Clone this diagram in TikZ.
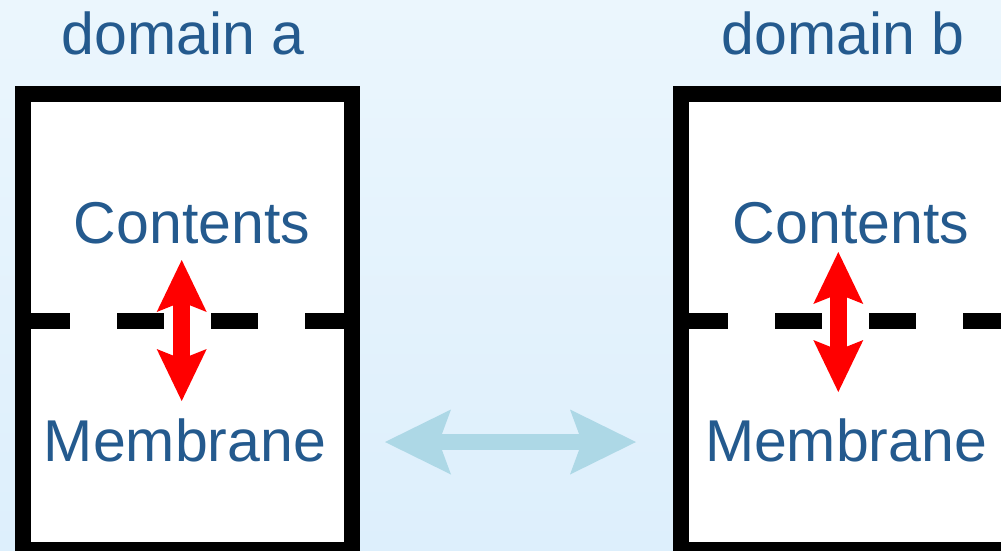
\documentclass[tikz,border=0pt]{standalone}
\usepackage{fontspec}
\setmainfont{Liberation Sans}
\usetikzlibrary{arrows.meta}
\definecolor{txtblue}{RGB}{36,90,142}
\definecolor{bgtop}{RGB}{235,246,253}
\definecolor{bgbot}{RGB}{221,239,252}
\definecolor{arrblue}{RGB}{173,216,230}
\tikzset{
  label/.style={anchor=base, inner sep=0pt, text=txtblue, font=\fontsize{59}{70}\selectfont},
  domainbox/.style={draw=black, fill=white, line width=16pt},
  membraneline/.style={line width=16pt, dash pattern=on 47pt off 47pt},
  redarrow/.style={draw=red, line width=17pt,
    {Stealth[length=52pt, width=50pt, inset=10pt, line width=0pt]}-{Stealth[length=52pt, width=50pt, inset=10pt, line width=0pt]}},
  bluearrow/.style={draw=arrblue, line width=16pt,
    {Stealth[length=66pt, width=65pt, inset=12pt, line width=0pt]}-{Stealth[length=66pt, width=65pt, inset=12pt, line width=0pt]}}
}
\begin{document}
\begin{tikzpicture}[x=1pt, y=-1pt]
\useasboundingbox (0,0) rectangle (1001,550);
\clip (0,0) rectangle (1001,550);
\shade[top color=bgtop, bottom color=bgbot] (0,0) rectangle (1001,550);
% boxes
\draw[domainbox] (23,94) rectangle (352,550);
\draw[domainbox] (681,94) rectangle (1060,550);
% membrane dashed lines
\coordinate (dA1) at (23,321);
\coordinate (dA2) at (352,321);
\coordinate (dB1) at (681,321);
\coordinate (dB2) at (1060,321);
\draw[membraneline] (dA1) -- (dA2);
\draw[membraneline] (dB1) -- (dB2);
% labels
\node[label] (domA) at (183,54) {domain a};
\node[label] (domB) at (843,54) {domain b};
\node[label] (contA) at (192,243) {Contents};
\node[label] (contB) at (851,243) {Contents};
\node[label] (membA) at (185,461) {Membrane};
\node[label] (membB) at (846,461) {Membrane};
% red arrows
\coordinate (rA1) at (181.7,260);
\coordinate (rA2) at (181.7,401);
\coordinate (rB1) at (838.3,252);
\coordinate (rB2) at (838.3,392);
\draw[redarrow] (rA1) -- (rA2);
\draw[redarrow] (rB1) -- (rB2);
% exchange arrow
\coordinate (hA) at (385,442);
\coordinate (hB) at (636,442);
\draw[bluearrow] (hA) -- (hB);
\end{tikzpicture}
\end{document}
